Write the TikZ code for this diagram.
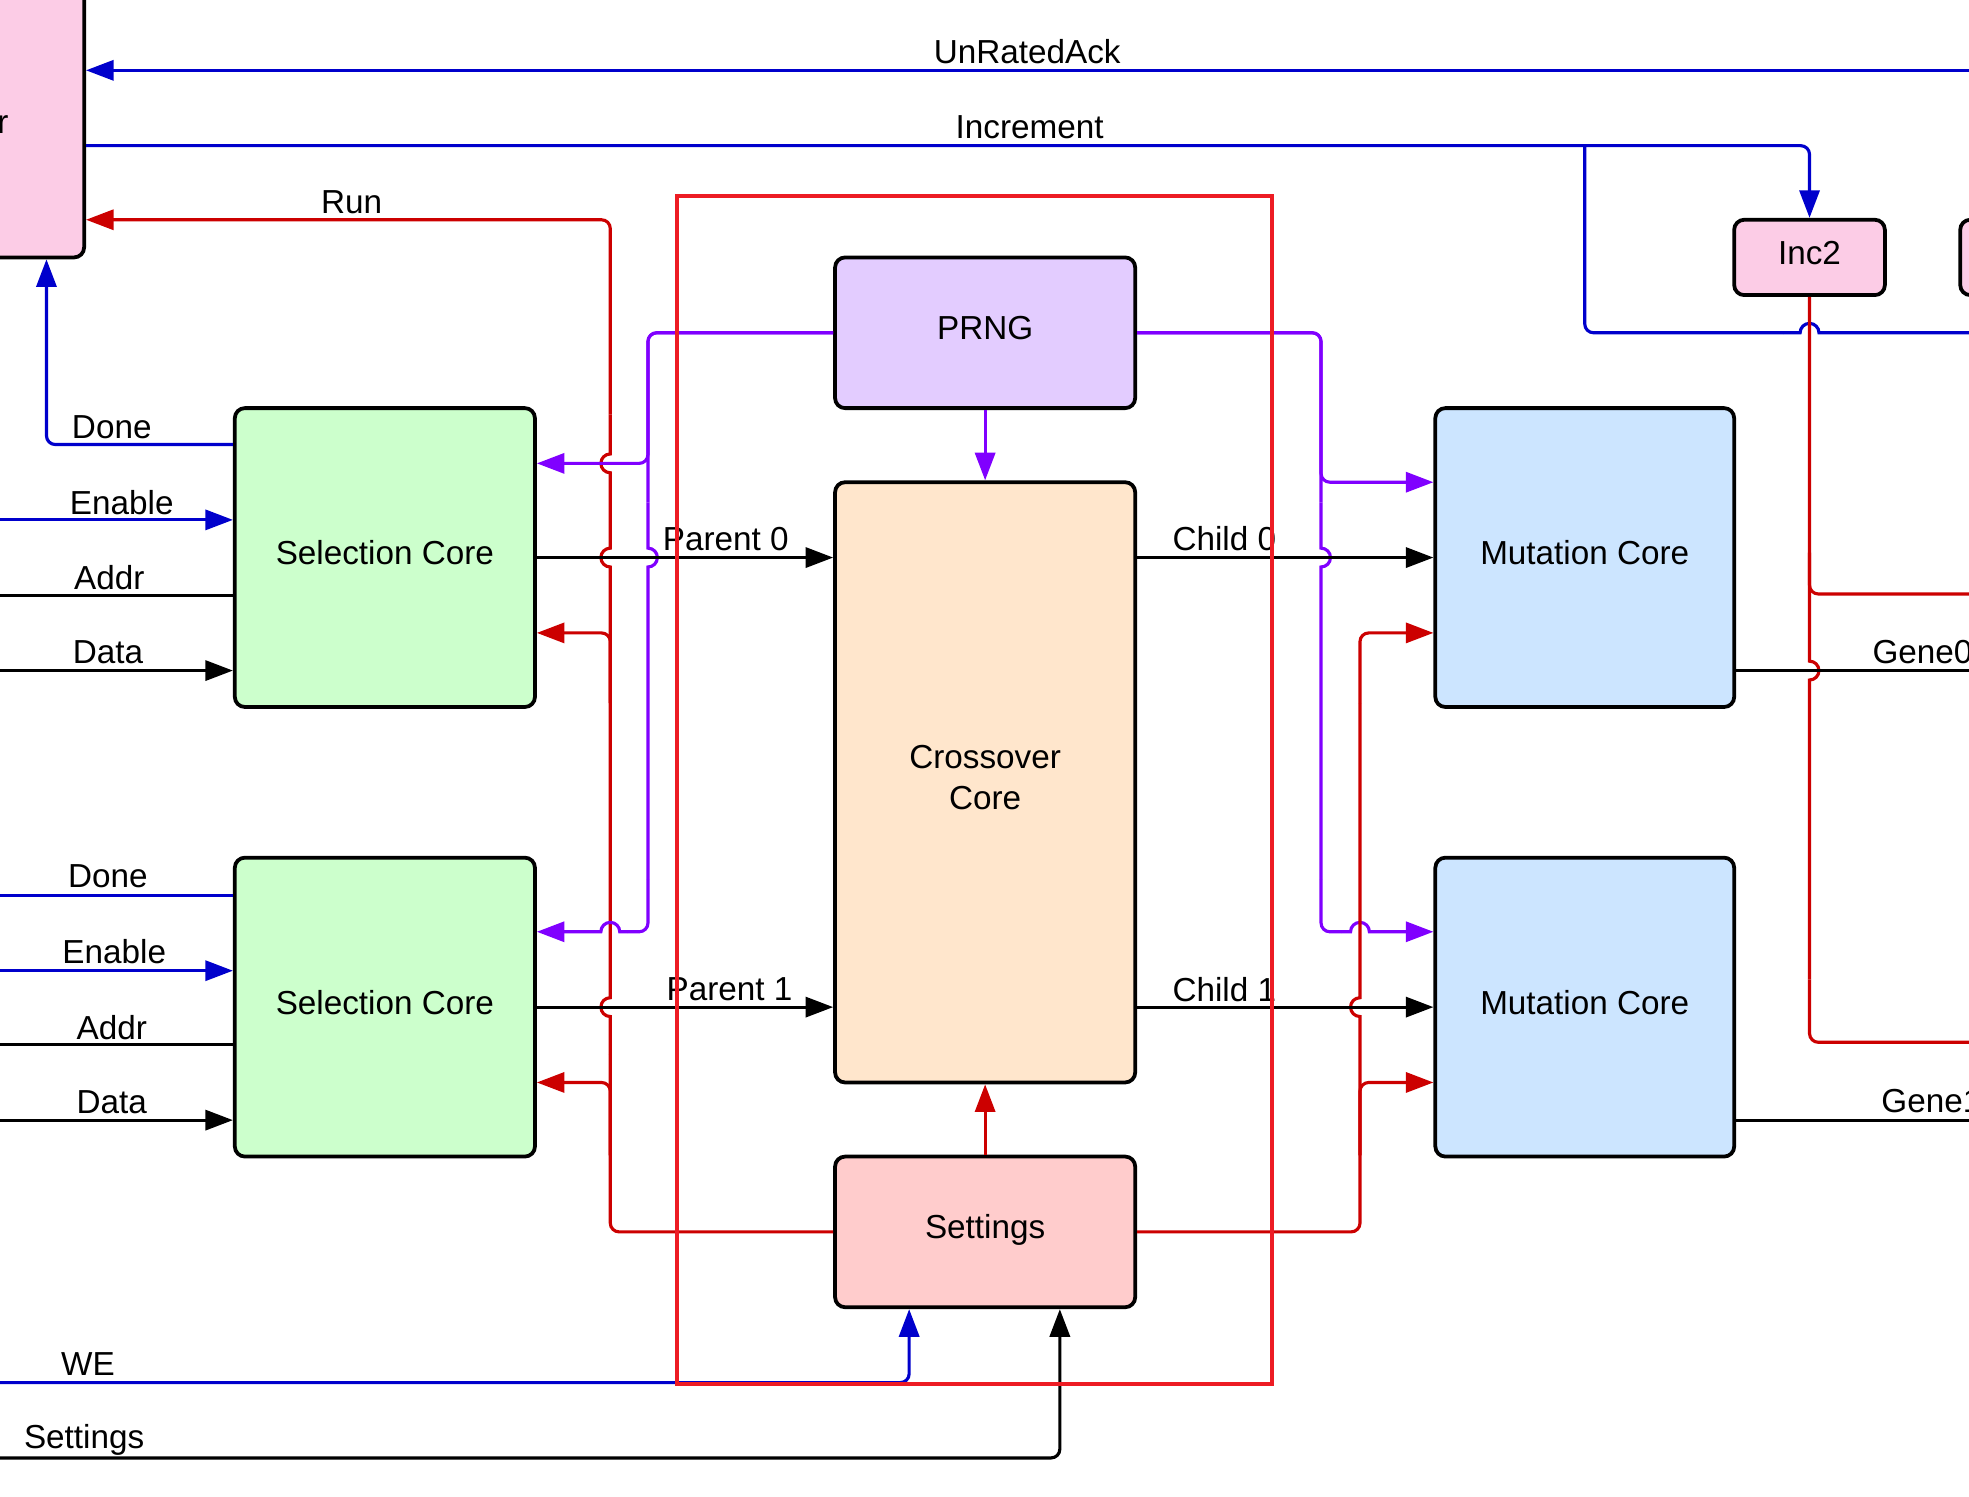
\documentclass[tikz,border=0pt]{standalone}
\usepackage{fontspec}
\setmainfont{Liberation Sans}
\usetikzlibrary{arrows.meta}
\definecolor{cblue}{RGB}{0,0,204}
\definecolor{cred}{RGB}{204,0,0}
\definecolor{cpurp}{RGB}{128,0,255}
\definecolor{framered}{RGB}{237,28,36}
\definecolor{fpink}{RGB}{252,204,230}
\definecolor{fgreen}{RGB}{204,255,204}
\definecolor{flav}{RGB}{227,204,255}
\definecolor{fpeach}{RGB}{255,230,204}
\definecolor{fsettings}{RGB}{255,204,204}
\definecolor{fmut}{RGB}{204,229,255}
\newcommand\dstrut{\rule[-8pt]{0pt}{8pt}}
\begin{document}
\begin{tikzpicture}[x=1pt,y=1pt,
  box/.style={draw=black,line width=3pt,rounded corners=8pt,inner sep=0pt,align=center,font=\fontsize{26.5}{33}\selectfont},
  lbl/.style={font=\fontsize{26.5}{33}\selectfont,inner sep=0pt},
  wire/.style={line width=2.5pt,rounded corners=7pt},
  hw/.style={line width=2.5pt},
  arr/.style={-{Triangle[length=22pt,width=16pt]}},
  bw/.style={wire,draw=cblue,cblue},
  rw/.style={wire,draw=cred,cred},
  pw/.style={wire,draw=cpurp,cpurp},
  kw/.style={wire,draw=black,black},
  hb/.style={hw,draw=cblue,cblue},
  hr/.style={hw,draw=cred,cred},
  hp/.style={hw,draw=cpurp,cpurp}]
\useasboundingbox (0,0) rectangle (1568,-1192);
\clip (0,0) rectangle (1568,-1192);
\fill[white] (0,0) rectangle (1568,-1192);

% boxes
\node[box,fill=fpink,minimum width=300pt,minimum height=300pt] (ctrl) at (-83,-55) {};
\node[lbl,anchor=east] (ctrltxt) at (7,-99) {r};
\node[box,fill=fgreen,minimum width=239pt,minimum height=238pt] (sc1) at (306.5,-444) {Selection Core\dstrut};
\node[box,fill=fgreen,minimum width=239pt,minimum height=238pt] (sc2) at (306.5,-802) {Selection Core\dstrut};
\node[box,fill=flav,minimum width=239pt,minimum height=120pt] (prng) at (784.5,-265) {PRNG\dstrut};
\node[box,fill=fpeach,minimum width=239pt,minimum height=478pt] (cross) at (784.5,-623) {Crossover\\Core\dstrut};
\node[box,fill=fsettings,minimum width=239pt,minimum height=120pt] (set) at (784.5,-981) {Settings\dstrut};
\node[box,fill=fmut,minimum width=238pt,minimum height=238pt] (mc1) at (1262,-444) {Mutation Core\dstrut};
\node[box,fill=fmut,minimum width=238pt,minimum height=238pt] (mc2) at (1262,-802) {Mutation Core\dstrut};
\node[box,fill=fpink,minimum width=120pt,minimum height=60pt] (inc2) at (1441,-205) {Inc2\dstrut};
\node[box,fill=fpink,minimum width=120pt,minimum height=60pt] (inc3) at (1621,-205) {};

% free ends and junctions
\coordinate (rUn) at (1580,-56);
\coordinate (incj) at (1262,-116);
\coordinate (rInc) at (1580,-265);
\coordinate (jInc2) at (1441,-440);
\coordinate (rA) at (1580,-473);
\coordinate (rB) at (1580,-830);
\coordinate (rG0) at (1580,-534);
\coordinate (rG1) at (1580,-892);
\coordinate (jL1) at (486,-560);
\coordinate (jL2) at (486,-920);
\coordinate (jR1) at (1083,-920);
\coordinate (lEn1) at (-10,-414);
\coordinate (lAd1) at (-10,-474);
\coordinate (lDa1) at (-10,-534);
\coordinate (lDo2) at (-10,-713);
\coordinate (lEn2) at (-10,-773);
\coordinate (lAd2) at (-10,-832);
\coordinate (lDa2) at (-10,-892);
\coordinate (lWE) at (-10,-1101);
\coordinate (lSet) at (-10,-1161);

% top blue lines
\draw[bw,arr] (rUn) -- (ctrl.east |- 0,-56);
\draw[bw,arr] (ctrl.east |- 0,-116) -- (1441,-116) -- (inc2.north);
\draw[bw] (incj) -- (1262,-265) -- (1420,-265);
\draw[hb] (1420,-265) -- (1433.5,-265) arc[start angle=180,end angle=0,radius=7.5] -- (rInc);

% Inc2 red outputs
\draw[hr] (inc2.south) -- (1441,-526.5) arc[start angle=90,end angle=-90,radius=7.5] -- (1441,-780);
\draw[rw] (1441,-780) -- (1441,-830) -- (rB);
\draw[rw] (jInc2) -- (1441,-473) -- (rA);

% left red (Settings -> Run, selection cores)
\draw[rw] (set.west) -- (486,-981) -- (486,-840);
\draw[hr] (486,-840) -- (486,-809.5) arc[start angle=270,end angle=90,radius=7.5]
  -- (486,-451.5) arc[start angle=270,end angle=90,radius=7.5]
  -- (486,-376.5) arc[start angle=270,end angle=90,radius=7.5] -- (486,-330);
\draw[rw,arr] (486,-330) -- (486,-175) -- (ctrl.east |- 0,-175);
\draw[rw,arr] (jL2) -- (486,-862) -- (sc2.east |- 0,-862);
\draw[rw,arr] (jL1) -- (486,-504) -- (sc1.east |- 0,-504);

% left purple
\draw[pw,arr] (prng.west) -- (516,-265) -- (516,-369) -- (sc1.east |- 0,-369);
\draw[pw] (prng.west) -- (516,-265) -- (516,-400);
\draw[hp] (516,-400) -- (516,-436.5) arc[start angle=90,end angle=-90,radius=7.5] -- (516,-700);
\draw[pw] (516,-700) -- (516,-742) -- (500,-742);
\draw[hp,arr] (500,-742) -- (493.5,-742) arc[start angle=0,end angle=180,radius=7.5] -- (sc2.east |- 0,-742);

% right purple
\draw[pw,arr] (prng.east) -- (1052,-265) -- (1052,-384) -- (mc1.west |- 0,-384);
\draw[pw] (prng.east) -- (1052,-265) -- (1052,-400);
\draw[hp] (1052,-400) -- (1052,-436.5) arc[start angle=90,end angle=-90,radius=7.5] -- (1052,-700);
\draw[pw] (1052,-700) -- (1052,-742) -- (1068,-742);
\draw[hp,arr] (1068,-742) -- (1075.5,-742) arc[start angle=180,end angle=0,radius=7.5] -- (mc2.west |- 0,-742);
\draw[pw,arr] (prng.south) -- (cross.north);

% right red
\draw[rw,arr] (set.east) -- (1083,-981) -- (1083,-862) -- (mc2.west |- 0,-862);
\draw[hr] (jR1) -- (1083,-809.5) arc[start angle=270,end angle=90,radius=7.5] -- (1083,-560);
\draw[rw,arr] (1083,-560) -- (1083,-504) -- (mc1.west |- 0,-504);
\draw[rw,arr] (set.north) -- (cross.south);

% black data paths
\draw[kw,arr] (sc1.east) -- (cross.west |- sc1.east);
\draw[kw,arr] (sc2.east) -- (cross.west |- sc2.east);
\draw[kw,arr] (cross.east |- mc1.west) -- (mc1.west);
\draw[kw,arr] (cross.east |- mc2.west) -- (mc2.west);
\draw[kw] (mc1.east |- rG0) -- (rG0);
\draw[kw] (mc2.east |- rG1) -- (rG1);

% selection core left wires
\draw[bw,arr] (sc1.west |- 0,-354) -- (37,-354) -- (37,0 |- ctrl.south);
\draw[bw,arr] (lEn1) -- (sc1.west |- lEn1);
\draw[kw] (sc1.west |- lAd1) -- (lAd1);
\draw[kw,arr] (lDa1) -- (sc1.west |- lDa1);
\draw[bw] (sc2.west |- lDo2) -- (lDo2);
\draw[bw,arr] (lEn2) -- (sc2.west |- lEn2);
\draw[kw] (sc2.west |- lAd2) -- (lAd2);
\draw[kw,arr] (lDa2) -- (sc2.west |- lDa2);

% bottom inputs
\draw[bw,arr] (lWE) -- (724,-1101) -- (724,0 |- set.south);
\draw[kw,arr] (lSet) -- (844,-1161) -- (844,0 |- set.south);

% labels
\node[lbl] (tUn) at (818,-41) {UnRatedAck};
\node[lbl] (tInc) at (820,-101) {Increment};
\node[lbl] (tRun) at (280,-161) {Run};
\node[lbl] (tDo1) at (89,-340) {Done};
\node[lbl] (tEn1) at (97,-400) {Enable};
\node[lbl] (tAd1) at (87,-460) {Addr};
\node[lbl] (tDa1) at (86,-519) {Data};
\node[lbl] (tDo2) at (86,-698) {Done};
\node[lbl] (tEn2) at (91,-758) {Enable};
\node[lbl] (tAd2) at (89,-818) {Addr};
\node[lbl] (tDa2) at (89,-878) {Data};
\node[lbl] (tWE) at (70,-1086) {WE};
\node[lbl] (tSet) at (67,-1147) {Settings};
\node[lbl] (tP0) at (578,-429) {Parent 0};
\node[lbl] (tP1) at (581,-788) {Parent 1};
\node[lbl] (tC0) at (975,-429) {Child 0};
\node[lbl] (tC1) at (975,-788) {Child 1};
\node[lbl,anchor=west] (tG0) at (1491,-519) {Gene0};
\node[lbl,anchor=west] (tG1) at (1498,-877) {Gene1};

% red frame
\node[draw=framered,line width=3pt,minimum width=474pt,minimum height=946pt,inner sep=0pt] (grp) at (776,-629) {};
\end{tikzpicture}
\end{document}
